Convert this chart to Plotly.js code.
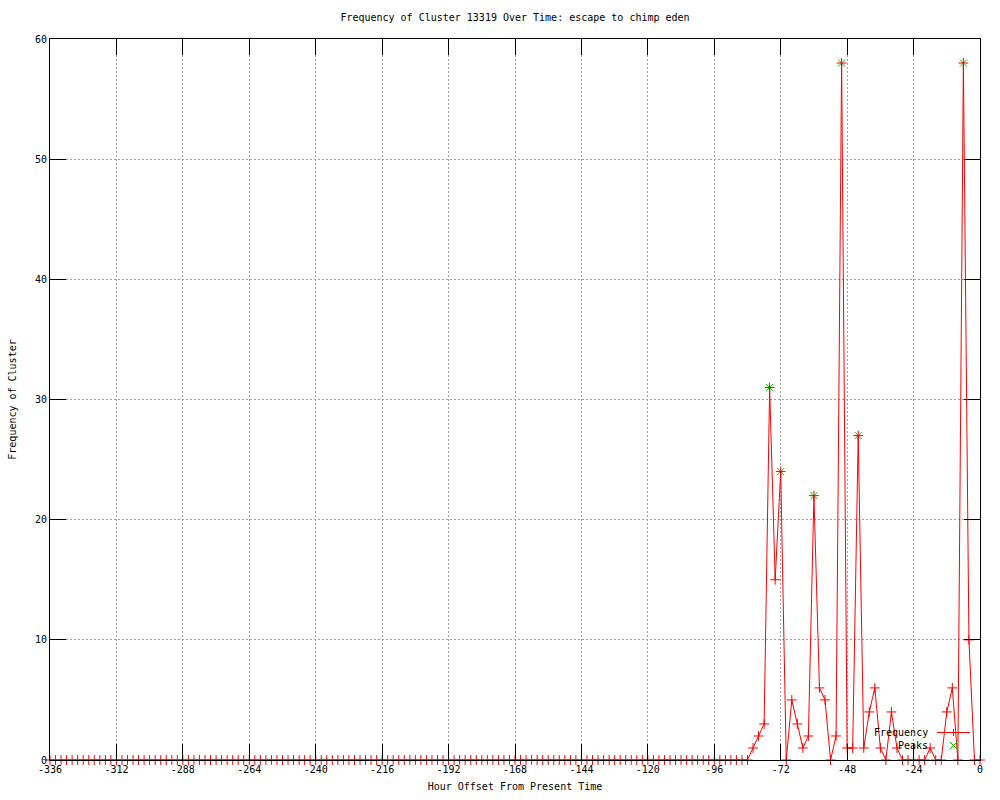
<!DOCTYPE html>
<html>
<head>
<meta charset="utf-8">
<script src="https://cdn.plot.ly/plotly-3.0.1.min.js"></script>
<style>html,body{margin:0;padding:0;background:#fff;}#chart{width:1000px;height:800px;}</style>
</head>
<body>
<div id="chart"></div>
<script>
// Hour offsets (every 2 hours)
const hours = [
-336,-334,-332,-330,-328,-326,-324,-322,-320,-318,-316,-314,
-312,-310,-308,-306,-304,-302,-300,-298,-296,-294,-292,-290,
-288,-286,-284,-282,-280,-278,-276,-274,-272,-270,-268,-266,
-264,-262,-260,-258,-256,-254,-252,-250,-248,-246,-244,-242,
-240,-238,-236,-234,-232,-230,-228,-226,-224,-222,-220,-218,
-216,-214,-212,-210,-208,-206,-204,-202,-200,-198,-196,-194,
-192,-190,-188,-186,-184,-182,-180,-178,-176,-174,-172,-170,
-168,-166,-164,-162,-160,-158,-156,-154,-152,-150,-148,-146,
-144,-142,-140,-138,-136,-134,-132,-130,-128,-126,-124,-122,
-120,-118,-116,-114,-112,-110,-108,-106,-104,-102,-100,-98,
-96,-94,-92,-90,-88,-86,-84,-82,-80,-78,-76,-74,
-72,-70,-68,-66,-64,-62,-60,-58,-56,-54,-52,-50,
-48,-46,-44,-42,-40,-38,-36,-34,-32,-30,-28,-26,
-24,-22,-20,-18,-16,-14,-12,-10,-8,-6,-4,-2,
0];
// Frequency of the cluster at each hour offset
const frequency = [
0,0,0,0,0,0,0,0,0,0,0,0,
0,0,0,0,0,0,0,0,0,0,0,0,
0,0,0,0,0,0,0,0,0,0,0,0,
0,0,0,0,0,0,0,0,0,0,0,0,
0,0,0,0,0,0,0,0,0,0,0,0,
0,0,0,0,0,0,0,0,0,0,0,0,
0,0,0,0,0,0,0,0,0,0,0,0,
0,0,0,0,0,0,0,0,0,0,0,0,
0,0,0,0,0,0,0,0,0,0,0,0,
0,0,0,0,0,0,0,0,0,0,0,0,
0,0,0,0,0,0,0,1,2,3,31,15,
24,0,5,3,1,2,22,6,5,0,2,58,
1,1,27,1,4,6,1,0,4,1,0,0,
0,0,0,1,0,0,4,6,0,58,10,0,
0];
// Detected peaks
const peakHours = [-76,-72,-60,-50,-44,-6];
const peakValues = [31,24,22,58,27,58];
// Tick labels
const xTickVals = [-336,-312,-288,-264,-240,-216,-192,-168,-144,-120,-96,-72,-48,-24,0];
const xTickText = ['-336','-312','-288','-264','-240','-216','-192','-168','-144','-120','-96','-72','-48','-24','0'];
const yTickVals = [0,10,20,30,40,50,60];
const yTickText = ['0','10','20','30','40','50','60'];

const FONT = 'DejaVu Sans Mono';
const RED = '#ff0000';
const GREEN = '#00c000';

const traces = [
  {
    x: peakHours, y: peakValues, name: 'Peaks', type: 'scatter', mode: 'markers',
    marker: {symbol: 'x-thin-open', size: 7, color: GREEN, line: {color: GREEN, width: 1}},
    cliponaxis: false
  },
  {
    x: hours, y: frequency, name: 'Frequency', type: 'scatter', mode: 'lines+markers',
    line: {color: RED, width: 1},
    marker: {symbol: 'cross-thin-open', size: 7, color: RED, line: {color: RED, width: 1}},
    cliponaxis: false
  }
];

// legend positions (paper coords)
const lx0 = (937-50)/930, lx1 = (970-50)/930, lxm = (953.5-50)/930, ltext = (930-50)/930;
const ly1 = (760-732.5)/721, ly2 = (760-745.5)/721;

const shapes = [
  {type:'line', xref:'paper', yref:'paper', x0:lx0, x1:lx1, y0:ly1, y1:ly1, line:{color:RED, width:1}},
  {type:'line', xref:'paper', yref:'paper', xsizemode:'pixel', ysizemode:'pixel', xanchor:lxm, yanchor:ly1, x0:0, x1:0, y0:-3.5, y1:3.5, line:{color:RED,width:1}},
  {type:'line', xref:'paper', yref:'paper', xsizemode:'pixel', ysizemode:'pixel', xanchor:lxm, yanchor:ly2, x0:-3.5, x1:3.5, y0:-3.5, y1:3.5, line:{color:GREEN,width:1}},
  {type:'line', xref:'paper', yref:'paper', xsizemode:'pixel', ysizemode:'pixel', xanchor:lxm, yanchor:ly2, x0:-3.5, x1:3.5, y0:3.5, y1:-3.5, line:{color:GREEN,width:1}}
];

const annotations = [
  {text:'Frequency', xref:'paper', yref:'paper', x:ltext, y:ly1, xanchor:'right', yanchor:'middle', showarrow:false, font:{family:FONT, size:10, color:'#000'}},
  {text:'Peaks', xref:'paper', yref:'paper', x:ltext, y:ly2, xanchor:'right', yanchor:'middle', showarrow:false, font:{family:FONT, size:10, color:'#000'}}
];

const axisCommon = {
  showline: true, linecolor: '#000', linewidth: 1, mirror: 'ticks',
  ticks: 'inside', ticklen: 16, tickwidth: 1, tickcolor: '#000',
  showgrid: true, gridcolor: '#a0a0a0', griddash: '2px,2px', gridwidth: 1,
  zeroline: false, tickfont: {family: FONT, size: 10, color: '#000'},
  automargin: false
};

const layout = {
  width: 1000, height: 800,
  margin: {l: 50, r: 20, t: 39, b: 40},
  paper_bgcolor: '#fff', plot_bgcolor: '#fff',
  showlegend: false,
  font: {family: FONT, size: 10, color: '#000'},
  title: {text: 'Frequency of Cluster 13319 Over Time: escape to chimp eden', x: 0.515, xanchor: 'center', y: 0.978, yanchor: 'middle', font: {family: FONT, size: 10, color: '#000'}},
  xaxis: Object.assign({}, axisCommon, {
    range: [-336, 0], tickmode: 'array', tickvals: xTickVals, ticktext: xTickText,
    title: {text: 'Hour Offset From Present Time', standoff: 8, font: {family: FONT, size: 10, color: '#000'}}
  }),
  yaxis: Object.assign({}, axisCommon, {
    range: [0, 60], tickmode: 'array', tickvals: yTickVals, ticktext: yTickText,
    title: {text: 'Frequency of Cluster', standoff: 16, font: {family: FONT, size: 10, color: '#000'}}
  }),
  shapes: shapes,
  annotations: annotations
};

Plotly.newPlot('chart', traces, layout, {displayModeBar: false, staticPlot: true});
</script>
</body>
</html>
